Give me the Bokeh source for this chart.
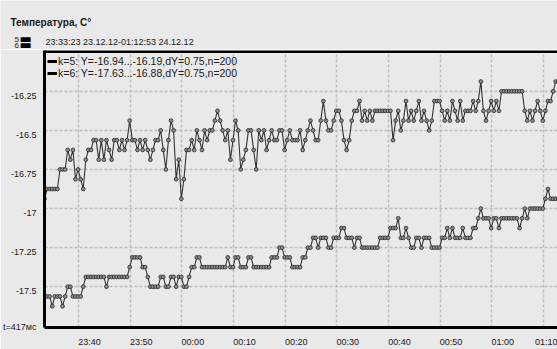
import numpy as np
from bokeh.plotting import figure
from bokeh.layouts import column
from bokeh.models import Range1d, FixedTicker, Legend, LegendItem, Label, Span
from bokeh.embed import file_html
from bokeh.resources import INLINE

# ---------------- data ----------------
title_text = "Температура, C°"
period_text = "23:33:23 23.12.12-01:12:53 24.12.12"
sample_text = "t=417мс"
series_ids = ["5", "6"]
legend_labels = ["k=5: Y=-16.94...-16.19,dY=0.75,n=200",
                 "k=6: Y=-17.63...-16.88,dY=0.75,n=200"]
start_time = "23:33:23"
end_time = "01:12:53"
x_tick_labels = ["23:40", "23:50", "00:00", "00:10", "00:20",
                 "00:30", "00:40", "00:50", "01:00", "01:10"]
y_ticks = [-17.5, -17.25, -17.0, -16.75, -16.5, -16.25]
y_tick_labels = ["-17.5", "-17.25", "-17", "-16.75", "-16.5", "-16.25"]

temp_k5 = [
    -16.9375, -16.875, -16.875, -16.875, -16.875, -16.875, -16.75, -16.75, -16.75, -16.625,
    -16.6875, -16.625, -16.8125, -16.75, -16.8125, -16.875, -16.6875, -16.625, -16.625, -16.5625,
    -16.5625, -16.6875, -16.5625, -16.6875, -16.5625, -16.625, -16.6875, -16.5625, -16.5625, -16.625,
    -16.5625, -16.625, -16.5625, -16.4375, -16.5625, -16.5625, -16.625, -16.5625, -16.625, -16.5625,
    -16.625, -16.6875, -16.625, -16.5625, -16.5625, -16.5, -16.625, -16.75, -16.5625, -16.4375,
    -16.5, -16.8125, -16.6875, -16.9375, -16.8125, -16.625, -16.625, -16.5625, -16.625, -16.5,
    -16.5625, -16.625, -16.5, -16.5625, -16.5, -16.5, -16.4375, -16.375, -16.4375, -16.5,
    -16.5625, -16.5, -16.6875, -16.5625, -16.4375, -16.5, -16.75, -16.6875, -16.625, -16.5,
    -16.5, -16.625, -16.75, -16.5, -16.5625, -16.5, -16.625, -16.5625, -16.5, -16.5625,
    -16.5625, -16.5, -16.5, -16.625, -16.5625, -16.5, -16.5625, -16.5625, -16.5625, -16.5,
    -16.625, -16.5625, -16.5, -16.4375, -16.5, -16.5625, -16.5625, -16.4375, -16.3125, -16.4375,
    -16.5, -16.5, -16.4375, -16.375, -16.375, -16.4375, -16.5625, -16.625, -16.5625, -16.4375,
    -16.375, -16.375, -16.3125, -16.4375, -16.375, -16.4375, -16.375, -16.4375, -16.375, -16.375,
    -16.375, -16.375, -16.375, -16.375, -16.375, -16.5625, -16.4375, -16.375, -16.5, -16.4375,
    -16.3125, -16.4375, -16.375, -16.4375, -16.375, -16.3125, -16.4375, -16.375, -16.4375, -16.5,
    -16.4375, -16.3125, -16.3125, -16.3125, -16.375, -16.4375, -16.375, -16.4375, -16.3125, -16.375,
    -16.4375, -16.3125, -16.4375, -16.375, -16.375, -16.375, -16.3125, -16.375, -16.3125, -16.1875,
    -16.375, -16.4375, -16.375, -16.3125, -16.375, -16.3125, -16.375, -16.25, -16.25, -16.25,
    -16.25, -16.25, -16.25, -16.25, -16.25, -16.25, -16.375, -16.4375, -16.375, -16.4375,
    -16.375, -16.3125, -16.375, -16.4375, -16.375, -16.3125, -16.3125, -16.25, -16.1875, -16.1875,
]

temp_k6 = [
    -17.5625, -17.5625, -17.5625, -17.625, -17.5625, -17.5625, -17.5625, -17.625, -17.5625, -17.5,
    -17.5, -17.5625, -17.5625, -17.5625, -17.5625, -17.5, -17.4375, -17.4375, -17.4375, -17.4375,
    -17.4375, -17.4375, -17.4375, -17.4375, -17.5, -17.4375, -17.4375, -17.4375, -17.4375, -17.4375,
    -17.4375, -17.4375, -17.4375, -17.375, -17.3125, -17.3125, -17.3125, -17.3125, -17.375, -17.375,
    -17.4375, -17.5, -17.5, -17.5, -17.5, -17.4375, -17.4375, -17.5, -17.5, -17.4375,
    -17.4375, -17.5, -17.4375, -17.4375, -17.5, -17.5, -17.4375, -17.375, -17.375, -17.3125,
    -17.3125, -17.375, -17.375, -17.375, -17.375, -17.375, -17.375, -17.375, -17.375, -17.375,
    -17.375, -17.3125, -17.375, -17.375, -17.3125, -17.3125, -17.375, -17.375, -17.375, -17.3125,
    -17.3125, -17.375, -17.375, -17.375, -17.375, -17.375, -17.375, -17.375, -17.3125, -17.3125,
    -17.3125, -17.25, -17.25, -17.3125, -17.3125, -17.3125, -17.375, -17.375, -17.375, -17.375,
    -17.3125, -17.3125, -17.25, -17.25, -17.1875, -17.1875, -17.25, -17.1875, -17.1875, -17.1875,
    -17.25, -17.25, -17.1875, -17.1875, -17.1875, -17.125, -17.125, -17.1875, -17.1875, -17.1875,
    -17.25, -17.1875, -17.1875, -17.25, -17.25, -17.25, -17.25, -17.25, -17.25, -17.25,
    -17.1875, -17.1875, -17.1875, -17.1875, -17.125, -17.125, -17.125, -17.0625, -17.1875, -17.1875,
    -17.125, -17.1875, -17.25, -17.25, -17.1875, -17.1875, -17.25, -17.1875, -17.1875, -17.1875,
    -17.25, -17.25, -17.25, -17.25, -17.1875, -17.1875, -17.125, -17.1875, -17.125, -17.1875,
    -17.1875, -17.1875, -17.125, -17.1875, -17.1875, -17.1875, -17.125, -17.125, -17.0625, -17.0,
    -17.0625, -17.0625, -17.0625, -17.125, -17.0625, -17.0625, -17.125, -17.0625, -17.0625, -17.0625,
    -17.0625, -17.0625, -17.0625, -17.0625, -17.125, -17.0625, -17.0, -17.0625, -17.0, -17.0,
    -17.0, -17.0, -17.0, -17.0, -16.9375, -16.875, -16.9375, -16.9375, -16.9375, -16.9375,
]


def to_minutes(hms):
    """minutes after 23:00 of 23.12.12"""
    parts = [int(v) for v in hms.split(":")]
    h, m = parts[0], parts[1]
    s = parts[2] if len(parts) > 2 else 0
    if h < 23:
        h += 24
    return (h - 23) * 60 + m + s / 60.0


t_start = to_minutes(start_time)
t_end = to_minutes(end_time)
times = np.linspace(t_start, t_end, len(temp_k5))
x_ticks = [to_minutes(lbl) for lbl in x_tick_labels]

# ---------------- layout ----------------
W, H = 557, 349
HEAD_H = 49                     # header strip above the chart
FRAME_L, FRAME_T, FRAME_B = 44, 50, 328
RIGHT_OVERHANG = 3              # plotting area runs just past the right window edge
PX_PER_MIN = 5.194
Y_TOP, Y_BOT = -15.989, -17.761
x_end = t_start + (W + RIGHT_OVERHANG - FRAME_L) / PX_PER_MIN
PX_PER_DEG = (FRAME_B - FRAME_T) / (Y_TOP - Y_BOT)

# tick labels sit to the right of / just below their grid lines
X_LABEL_SHIFT = 11.0 / PX_PER_MIN
Y_LABEL_SHIFT = -4.5 / PX_PER_DEG
x_label_pos = [t + X_LABEL_SHIFT for t in x_ticks]
y_label_pos = [v + Y_LABEL_SHIFT for v in y_ticks]
note_pos = Y_BOT + 1e-6          # sampling note shown at the bottom-left corner

BG = "#e9e9e9"
INK = "#202020"
FONT = "Liberation Sans"


def unalign(fig):
    if "frame_align" in fig.properties():
        fig.frame_align = False


# ---------------- header (title, series key, period) ----------------
hdr = figure(width=W, height=HEAD_H, output_backend="svg", toolbar_location=None,
             title=None, x_axis_type=None, y_axis_type=None,
             x_range=Range1d(0, W), y_range=Range1d(HEAD_H, 0),
             min_border_left=0, min_border_right=0, min_border_top=0, min_border_bottom=0,
             background_fill_color=BG, border_fill_color=BG, outline_line_color=None)
unalign(hdr)


def hlabel(x, y, text, size, **kw):
    opts = dict(text_baseline="middle", text_align="left", text_font=FONT,
                text_font_size=size, text_color=INK)
    opts.update(kw)
    hdr.add_layout(Label(x=x, y=y, text=text, **opts))


hlabel(10, 22, title_text, "10px", text_font_style="bold", text_color="#1a1a1a")
hlabel(14, 38.5, series_ids[0], "8px")
hlabel(14, 45, series_ids[1], "8px")
hlabel(19, 37.5, "▬", "13px", text_font="DejaVu Sans", text_color="black")
hlabel(19, 43.5, "▬", "13px", text_font="DejaVu Sans", text_color="black")
hlabel(45, 41.5, period_text, "9px")

# ---------------- chart ----------------
p = figure(width=W, height=H - HEAD_H, output_backend="svg", toolbar_location=None,
           title=None,
           x_range=Range1d(t_start, x_end),
           y_range=Range1d(Y_BOT, Y_TOP),
           min_border_left=FRAME_L, min_border_right=-RIGHT_OVERHANG,
           min_border_top=FRAME_T - HEAD_H, min_border_bottom=H - FRAME_B,
           background_fill_color=BG, border_fill_color=BG, outline_line_color=None)
unalign(p)

# x axis
xa = p.xaxis[0]
xa.ticker = FixedTicker(ticks=x_label_pos)
xa.major_label_overrides = {t: l for t, l in zip(x_label_pos, x_tick_labels)}
xa.major_tick_line_color = None
xa.major_tick_out = 0
xa.major_tick_in = 0
xa.minor_tick_line_color = None
xa.axis_line_width = 3
xa.axis_line_color = "black"
xa.major_label_standoff = 9
xa.major_label_text_font = FONT
xa.major_label_text_font_size = "9px"
xa.major_label_text_color = INK

# y axis (plus the sampling note at its lower end)
ya = p.yaxis[0]
ya.ticker = FixedTicker(ticks=y_label_pos + [note_pos])
overrides = {t: l for t, l in zip(y_label_pos, y_tick_labels)}
overrides[note_pos] = sample_text
ya.major_label_overrides = overrides
ya.major_tick_line_color = None
ya.major_tick_out = 0
ya.major_tick_in = 0
ya.minor_tick_line_color = None
ya.axis_line_width = 3
ya.axis_line_color = "black"
ya.major_label_standoff = 8
ya.major_label_text_font = FONT
ya.major_label_text_font_size = "9px"
ya.major_label_text_color = INK

# top border line of the plotting area
p.add_layout(Span(location=Y_TOP, dimension="width", line_color="black", line_width=5))

# grid
p.xgrid.ticker = FixedTicker(ticks=x_ticks)
p.ygrid.ticker = FixedTicker(ticks=y_ticks)
for g in (p.xgrid, p.ygrid):
    g.grid_line_color = "#bdbdbd"
    g.grid_line_width = 1.5
    g.grid_line_dash = "3 2"

# series
for vals in (temp_k5, temp_k6):
    p.line(times, vals, line_color="#333333", line_width=1.1)
    p.scatter(times, vals, marker="circle", size=3.8, line_color="#2a2a2a",
              fill_color="#8c8c8c", line_width=0.8)

# legend inside the plot (thick black bars as series samples)
leg_renderers = [p.line(x=[np.nan], y=[np.nan], line_color="black", line_width=3)
                 for _ in legend_labels]
legend = Legend(items=[LegendItem(label=l, renderers=[r]) for l, r in zip(legend_labels, leg_renderers)],
                location=(3, 248), orientation="vertical",
                glyph_width=10, glyph_height=4, label_height=4, label_standoff=1,
                spacing=-2, padding=0, margin=0,
                label_text_font=FONT, label_text_font_size="10.5px", label_text_color=INK,
                background_fill_alpha=0, border_line_color=None)
p.add_layout(legend, "center")

layout = column(hdr, p)
open("out.html", "w").write(file_html(layout, INLINE))
